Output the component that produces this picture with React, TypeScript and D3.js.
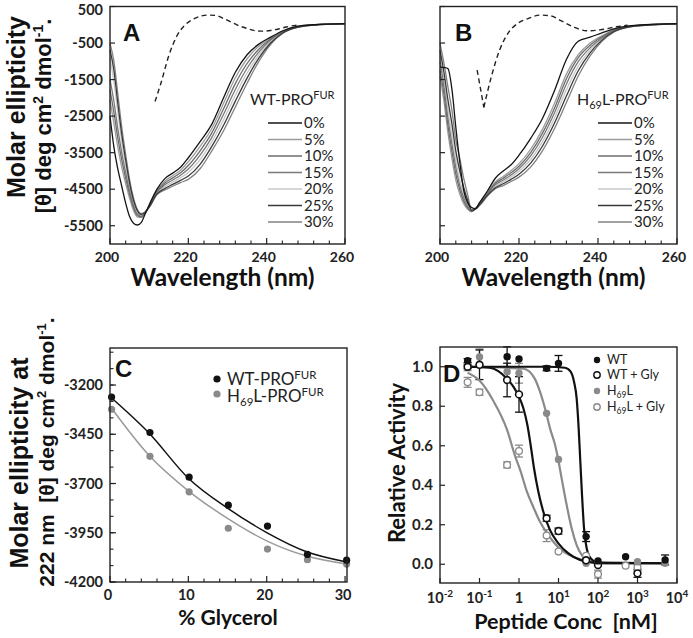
import * as d3 from "d3";

// ---------- panels A / B : CD spectra ----------
const wavelengthNm = [200, 201, 202, 203, 204, 205, 206, 207, 208, 209, 210, 212, 214, 216, 218, 220, 223, 226, 229, 232, 235, 238, 241, 244, 248, 252, 260];
const glycerolLabels = ["0%", "5%", "10%", "15%", "20%", "25%", "30%"];

const wt0 = [-2500, -3350, -3950, -4420, -4880, -5250, -5430, -5480, -5410, -5170, -4930, -4500, -4210, -4060, -3900, -3640, -3200, -2720, -2000, -1300, -820, -530, -340, -170, -40, 0, 30];
const wt5 = [-2060, -2700, -3350, -3900, -4350, -4750, -5080, -5260, -5280, -5150, -4950, -4530, -4280, -4130, -3980, -3750, -3330, -2840, -2150, -1450, -930, -590, -360, -180, -45, -2, 32];
const wt10 = [-1780, -2400, -3100, -3700, -4200, -4640, -5010, -5220, -5260, -5145, -4960, -4560, -4330, -4190, -4050, -3850, -3450, -2960, -2300, -1610, -1060, -670, -390, -190, -50, -4, 30];
const wt15 = [-1510, -2100, -2850, -3500, -4050, -4550, -4950, -5180, -5240, -5140, -4970, -4580, -4380, -4250, -4120, -3950, -3570, -3080, -2450, -1770, -1190, -750, -420, -200, -55, -5, 28];
const wt20 = [-920, -1550, -2400, -3200, -3850, -4430, -4870, -5130, -5210, -5135, -4980, -4610, -4430, -4310, -4190, -4040, -3690, -3200, -2600, -1930, -1320, -830, -460, -215, -60, -6, 30];
const wt25 = [-690, -1250, -2150, -3000, -3700, -4330, -4800, -5090, -5190, -5128, -4990, -4630, -4480, -4370, -4260, -4140, -3820, -3330, -2750, -2090, -1460, -910, -500, -230, -65, -8, 26];
const wt30 = [-510, -1000, -1900, -2800, -3550, -4240, -4740, -5060, -5170, -5120, -5000, -4650, -4520, -4420, -4320, -4230, -3940, -3450, -2900, -2250, -1600, -1000, -540, -240, -70, -10, 30];
const wtSpectra = [wt0, wt5, wt10, wt15, wt20, wt25, wt30];

const h0 = [-1150, -1170, -1200, -1750, -2800, -3750, -4530, -4870, -5000, -5030, -4870, -4550, -4200, -4000, -3830, -3570, -3100, -2550, -1800, -950, -450, -340, -220, -110, -30, 0, 30];
const h5 = [-1400, -2100, -2950, -3650, -4250, -4630, -4900, -5050, -5110, -5030, -4890, -4590, -4300, -4150, -3990, -3800, -3400, -2850, -2150, -1350, -820, -500, -300, -140, -35, -3, 30];
const h10 = [-1250, -1900, -2750, -3450, -4080, -4520, -4820, -5010, -5110, -5030, -4900, -4610, -4340, -4200, -4050, -3870, -3490, -2960, -2280, -1480, -900, -560, -330, -150, -40, -5, 28];
const h15 = [-1000, -1700, -2550, -3250, -3900, -4400, -4730, -4960, -5100, -5030, -4910, -4630, -4380, -4250, -4110, -3940, -3580, -3070, -2410, -1620, -1010, -630, -360, -160, -45, -7, 32];
const h20 = [-850, -1500, -2300, -3000, -3700, -4250, -4620, -4900, -5100, -5040, -4920, -4650, -4420, -4300, -4170, -4010, -3680, -3190, -2550, -1780, -1130, -700, -390, -170, -50, -9, 30];
const h25 = [-700, -1300, -2050, -2700, -3450, -4000, -4450, -4800, -5080, -5040, -4930, -4670, -4460, -4350, -4230, -4090, -3780, -3310, -2690, -1950, -1260, -770, -420, -185, -55, -12, 27];
const h30 = [-510, -1050, -1700, -2330, -3150, -3650, -4200, -4650, -5060, -5040, -4950, -4690, -4490, -4400, -4290, -4170, -3890, -3440, -2840, -2130, -1400, -850, -450, -200, -60, -15, 30];
const h69lSpectra = [h0, h5, h10, h15, h20, h25, h30];

// dashed reference spectra
const wtDashNm = [211.5, 213, 215, 217, 219, 221, 223, 225, 227, 229, 231, 233, 235, 237, 239, 241, 243, 245, 248];
const wtDashTheta = [-2100, -1600, -850, -320, -20, 140, 230, 265, 255, 170, 70, -30, -100, -160, -175, -155, -115, -60, -5];
const hDashNm = [209.4, 211.1, 213, 215.1, 217.2, 219.7, 222.3, 225.2, 228.2, 230.3, 233.7, 237.1, 240.5, 244.7, 247.5];
const hDashTheta = [-1240, -2260, -1420, -690, -235, 40, 170, 265, 240, 130, -55, -165, -140, -55, -10];

const cdYTicks = [500, -500, -1500, -2500, -3500, -4500, -5500];
const cdXTicks = [200, 220, 240, 260];
const cdXMinor = [204, 208, 212, 216, 224, 228, 232, 236, 244, 248, 252, 256];

// ---------- panel C ----------
const glycerolPct = [0.2, 5.1, 10.1, 15.1, 20.1, 25.2, 30.2];
const wtTheta222 = [-3261, -3441, -3668, -3810, -3916, -4060, -4089];
const h69lTheta222 = [-3323, -3562, -3742, -3927, -4033, -4087, -4109];
const fitPct = [0.2, 5, 10, 15, 20, 25, 30.2];
const wtFit222 = [-3266, -3445, -3673, -3825, -3949, -4045, -4098];
const h69lFit222 = [-3318, -3558, -3737, -3877, -3991, -4067, -4109];
const cYTicks = [-3200, -3450, -3700, -3950, -4200];
const cXTicks = [0, 10, 20, 30];
const cXMinor = [2, 4, 6, 8, 12, 14, 16, 18, 22, 24, 26, 28];

// ---------- panel D ----------
const wtConc = [0.05, 0.5, 1, 5, 10, 50, 100, 500, 5000];
const wtAct = [1.031, 1.051, 1.039, 0.992, 1.017, 0.14, 0.017, 0.038, 0.022];
const wtErr = [0.01, 0.05, 0, 0.012, 0.04, 0.025, 0, 0, 0.025];
const wtGlyConc = [0.05, 0.1, 0.5, 1, 5, 10, 50, 100, 1000];
const wtGlyAct = [1.0, 1.01, 0.933, 0.86, 0.233, 0.168, 0.02, -0.004, -0.046];
const wtGlyErr = [0.01, 0.075, 0.085, 0.09, 0.015, 0.015, 0.01, 0, 0.02];
const h69lConc = [0.05, 0.1, 0.5, 1, 5, 10, 50, 100, 1000, 5000];
const h69lAct = [1.0, 1.05, 0.975, 0.967, 0.764, 0.531, 0.005, 0.005, 0.013, 0.005];
const h69lErr = [0.02, 0.04, 0, 0.05, 0, 0, 0, 0, 0, 0];
const h69lGlyConc = [0.05, 0.1, 0.5, 1, 5, 10, 50, 100, 500, 1000];
const h69lGlyAct = [0.921, 0.871, 0.503, 0.573, 0.145, 0.064, 0.043, -0.05, -0.007, -0.017];
const h69lGlyErr = [0.025, 0.015, 0.015, 0.03, 0.03, 0, 0, 0.02, 0, 0.015];

const wtFitConc = [0.05, 5, 14.6, 20.3, 24.7, 28.8, 32.4, 35.7, 39.4, 44.3, 51.7, 65.2, 100, 5000];
const wtFitAct = [1.0, 1.0, 0.995, 0.975, 0.924, 0.84, 0.688, 0.519, 0.35, 0.182, 0.081, 0.03, 0.008, 0.005];
const wtGlyFitConc = [0.05, 0.18, 0.3, 0.49, 0.72, 1, 1.29, 1.63, 1.97, 2.4, 3.09, 4.13, 6.1, 9.9, 17.8, 35, 100, 5000];
const wtGlyFitAct = [1.0, 0.995, 0.978, 0.94, 0.899, 0.848, 0.79, 0.705, 0.604, 0.486, 0.367, 0.266, 0.173, 0.106, 0.055, 0.022, 0.006, 0.005];
const h69lFitConc = [0.05, 1.3, 2.5, 3.4, 4.8, 6.1, 8.2, 9.9, 12, 16.1, 21.5, 28.8, 38.6, 57, 100, 5000];
const h69lFitAct = [1.0, 0.99, 0.94, 0.874, 0.772, 0.688, 0.604, 0.528, 0.435, 0.3, 0.182, 0.097, 0.047, 0.013, 0.006, 0.005];
const h69lGlyFitConc = [0.05, 0.1, 0.22, 0.5, 0.79, 1.1, 1.57, 2.3, 3.4, 5, 7.4, 10.6, 19.5, 50, 166, 5000];
const h69lGlyFitAct = [0.97, 0.93, 0.83, 0.68, 0.55, 0.47, 0.37, 0.29, 0.215, 0.16, 0.114, 0.08, 0.045, 0.018, 0.006, 0.005];

const dXExponents = [-2, -1, 0, 1, 2, 3, 4];
const dYTicks = [0, 0.2, 0.4, 0.6, 0.8, 1.0];

// ---------- styling ----------
const FONT = "Lato, 'Open Sans', sans-serif";
const ARIAL = "'Liberation Sans', Arial, sans-serif";
const NB = "\u00A0";
const curveColors = ["#141414", "#9c9c9c", "#6c6c6c", "#7a7a7a", "#c8c8c8", "#3a3a3a", "#828282"];
const drawOrder = [4, 1, 6, 3, 2, 5, 0];
const GRAY = "#8a8a8a";

function CdPanel({ x0, x1, spectra, dashNm, dashTheta, sharpFirst, letter, letterX, yLabels, legendX, lineX, title }: any) {
  const xs = d3.scaleLinear().domain([200, 260]).range([x0, x1]);
  const ys = d3.scaleLinear().domain([-6000, 500]).range([244, 6.5]);
  const top = 6.5, bottom = 244;
  const line = d3
    .line<number>()
    .x((_, i) => xs(wavelengthNm[i]))
    .y((d) => ys(d))
    .curve(d3.curveMonotoneX);
  const dash = d3
    .line<number>()
    .x((i) => xs(dashNm[i]))
    .y((i) => ys(dashTheta[i]));
  const idx = dashNm.map((_: number, i: number) => i);
  const dashParts = sharpFirst ? [idx.slice(0, 2), idx.slice(1)] : [idx];
  const legendRows = [123, 139.5, 156, 172.5, 189, 205.5, 222];
  return (
    <g>
      {dashParts.map((p: number[], k: number) => (
        <path key={k} d={(sharpFirst && k === 0 ? dash.curve(d3.curveLinear) : dash.curve(d3.curveMonotoneX))(p) || ""}
          fill="none" stroke="#222" strokeWidth={1.4} strokeDasharray="5,3.5" />
      ))}
      {drawOrder.map((k) => (
        <path key={k} d={line(spectra[k]) || ""} fill="none" stroke={curveColors[k]} strokeWidth={1.3} />
      ))}
      <rect x={x0} y={top} width={x1 - x0} height={bottom - top} fill="none" stroke="#222" strokeWidth={1.4} />
      {cdYTicks.map((t) => (
        <line key={t} x1={x0} x2={x0 + 5} y1={ys(t)} y2={ys(t)} stroke="#222" strokeWidth={1.2} />
      ))}
      {cdXTicks.map((t) => (
        <line key={t} x1={xs(t)} x2={xs(t)} y1={bottom} y2={bottom - 6} stroke="#222" strokeWidth={1.2} />
      ))}
      {cdXMinor.map((t) => (
        <line key={t} x1={xs(t)} x2={xs(t)} y1={bottom} y2={bottom - 3.5} stroke="#222" strokeWidth={1.1} />
      ))}
      {yLabels &&
        cdYTicks.map((t) => (
          <text key={t} x={103} y={Math.max(ys(t) + 5, 15)} textAnchor="end" fontSize={14.5} fontWeight={700} fill="#222">
            {t}
          </text>
        ))}
      {cdXTicks.map((t) => (
        <text key={t} x={xs(t) - 3} y={261.5} textAnchor="middle" fontSize={14} fontWeight={700} fill="#222">
          {t}
        </text>
      ))}
      <text x={(x0 + x1) / 2 - 5} y={286} textAnchor="middle" fontSize={24.5} fontWeight={700} fill="#111">
        Wavelength (nm)
      </text>
      <text x={letterX} y={41} fontFamily={ARIAL} fontSize={24} fontWeight={700} fill="#111">
        {letter}
      </text>
      <text x={legendX} y={105} fontSize={16} fill="#222">
        {title}
      </text>
      {glycerolLabels.map((g, k) => (
        <g key={g}>
          <line x1={lineX} x2={lineX + 34} y1={legendRows[k]} y2={legendRows[k]} stroke={curveColors[k]} strokeWidth={1.5} />
          <text x={lineX + 36} y={legendRows[k] + 5} fontSize={15} fill="#222">
            {g}
          </text>
        </g>
      ))}
    </g>
  );
}

function PanelC() {
  const xs = d3.scaleLinear().domain([0, 30.25]).range([110, 347]);
  const ys = d3.scaleLinear().domain([-4200, -3012]).range([582, 348]);
  const minor = d3.range(-4200, -3010, 250 / 3);
  const fit = (vals: number[]) =>
    d3
      .line<number>()
      .x((_, i) => xs(fitPct[i]))
      .y((d) => ys(d))
      .curve(d3.curveMonotoneX)(vals) || "";
  return (
    <g>
      <path d={fit(h69lFit222)} fill="none" stroke="#9a9a9a" strokeWidth={1.5} />
      <path d={fit(wtFit222)} fill="none" stroke="#111" strokeWidth={1.5} />
      {h69lTheta222.map((v, i) => (
        <circle key={"g" + i} cx={xs(glycerolPct[i])} cy={ys(v)} r={3.6} fill={GRAY} />
      ))}
      {wtTheta222.map((v, i) => (
        <circle key={"b" + i} cx={xs(glycerolPct[i])} cy={ys(v)} r={3.6} fill="#111" />
      ))}
      <rect x={110} y={348} width={237} height={234} fill="none" stroke="#222" strokeWidth={1.4} />
      {minor.map((t) => (
        <line key={t} x1={110} x2={113.5} y1={ys(t)} y2={ys(t)} stroke="#222" strokeWidth={1.1} />
      ))}
      {cYTicks.map((t) => (
        <line key={t} x1={110} x2={116} y1={ys(t)} y2={ys(t)} stroke="#222" strokeWidth={1.2} />
      ))}
      {cXMinor.map((t) => (
        <line key={t} x1={xs(t)} x2={xs(t)} y1={582} y2={578.5} stroke="#222" strokeWidth={1.1} />
      ))}
      {cXTicks.map((t) => (
        <line key={t} x1={xs(t)} x2={xs(t)} y1={582} y2={576} stroke="#222" strokeWidth={1.2} />
      ))}
      {cYTicks.map((t) => (
        <text key={t} x={103} y={ys(t) + 5} textAnchor="end" fontSize={14.5} fontWeight={700} fill="#222">
          {t}
        </text>
      ))}
      {cXTicks.map((t) => (
        <text key={t} x={xs(t) - 2} y={600} textAnchor="middle" fontSize={14.5} fontWeight={700} fill="#222">
          {t}
        </text>
      ))}
      <text x={228} y={625} textAnchor="middle" fontSize={21} fontWeight={700} fill="#111">
        % Glycerol
      </text>
      <text x={115} y={377} fontFamily={ARIAL} fontSize={24} fontWeight={700} fill="#111">
        C
      </text>
      <circle cx={217} cy={379} r={3.6} fill="#111" />
      <text x={227} y={385} fontSize={17} fill="#222">
        WT-PRO<tspan dy={-6} fontSize={11.5}>FUR</tspan>
      </text>
      <circle cx={217} cy={394} r={3.6} fill={GRAY} />
      <text x={227} y={402} fontSize={17} fill="#222">
        H<tspan dy={4} fontSize={11.5}>69</tspan>
        <tspan dy={-4}>L-PRO</tspan>
        <tspan dy={-6} fontSize={11.5}>FUR</tspan>
      </text>
    </g>
  );
}

function PanelD() {
  const xs = d3.scaleLog().domain([0.01, 10000]).range([440, 677]);
  const ys = d3.scaleLinear().domain([-0.1, 1.1]).range([584, 347]);
  const fitLine = (cs: number[], vals: number[]) =>
    d3
      .line<number>()
      .x((_, i) => xs(cs[i]))
      .y((d) => ys(d))
      .curve(d3.curveMonotoneX)(vals) || "";
  const bars = (cs: number[], vals: number[], errs: number[], color: string) =>
    vals.map((v, i) =>
      errs[i] > 0 ? (
        <g key={"e" + color + i} stroke={color} strokeWidth={1.3}>
          <line x1={xs(cs[i])} x2={xs(cs[i])} y1={ys(v - errs[i])} y2={ys(v + errs[i])} />
          <line x1={xs(cs[i]) - 4} x2={xs(cs[i]) + 4} y1={ys(v - errs[i])} y2={ys(v - errs[i])} />
          <line x1={xs(cs[i]) - 4} x2={xs(cs[i]) + 4} y1={ys(v + errs[i])} y2={ys(v + errs[i])} />
        </g>
      ) : null
    );
  const legend = [
    { y: 360, fill: "#111", stroke: "none", label: <>WT</> },
    { y: 375, fill: "#fff", stroke: "#111", label: <>WT + Gly</> },
    { y: 391, fill: GRAY, stroke: "none", label: <>H<tspan dy={3} fontSize={8.5}>69</tspan><tspan dy={-3}>L</tspan></> },
    { y: 407, fill: "#fff", stroke: GRAY, label: <>H<tspan dy={3} fontSize={8.5}>69</tspan><tspan dy={-3}>L + Gly</tspan></> },
  ];
  return (
    <g>
      {bars(h69lGlyConc, h69lGlyAct, h69lGlyErr, GRAY)}
      {bars(h69lConc, h69lAct, h69lErr, GRAY)}
      {bars(wtGlyConc, wtGlyAct, wtGlyErr, "#111")}
      {bars(wtConc, wtAct, wtErr, "#111")}
      <path d={fitLine(h69lGlyFitConc, h69lGlyFitAct)} fill="none" stroke={GRAY} strokeWidth={2.2} />
      <path d={fitLine(h69lFitConc, h69lFitAct)} fill="none" stroke={GRAY} strokeWidth={2.2} />
      <path d={fitLine(wtGlyFitConc, wtGlyFitAct)} fill="none" stroke="#111" strokeWidth={2.2} />
      <path d={fitLine(wtFitConc, wtFitAct)} fill="none" stroke="#111" strokeWidth={2.2} />
      {h69lGlyAct.map((v, i) => (
        <circle key={"hg" + i} cx={xs(h69lGlyConc[i])} cy={ys(v)} r={3.4} fill="#fff" stroke={GRAY} strokeWidth={1.3} />
      ))}
      {h69lAct.map((v, i) => (
        <circle key={"h" + i} cx={xs(h69lConc[i])} cy={ys(v)} r={3.7} fill={GRAY} />
      ))}
      {wtGlyAct.map((v, i) => (
        <circle key={"wg" + i} cx={xs(wtGlyConc[i])} cy={ys(v)} r={3.4} fill="#fff" stroke="#111" strokeWidth={1.6} />
      ))}
      {wtAct.map((v, i) => (
        <circle key={"w" + i} cx={xs(wtConc[i])} cy={ys(v)} r={3.7} fill="#111" />
      ))}
      <rect x={440} y={347} width={237} height={236} fill="none" stroke="#222" strokeWidth={1.4} />
      {dYTicks.map((t) => (
        <line key={t} x1={440} x2={445} y1={ys(t)} y2={ys(t)} stroke="#222" strokeWidth={1.2} />
      ))}
      {dXExponents.map((e) => (
        <line key={e} x1={xs(10 ** e)} x2={xs(10 ** e)} y1={583} y2={578} stroke="#222" strokeWidth={1.2} />
      ))}
      {dYTicks.map((t) => (
        <text key={t} x={433} y={ys(t) + 5} textAnchor="end" fontSize={15} fontWeight={700} fill="#222">
          {t.toFixed(1)}
        </text>
      ))}
      {dXExponents.map((e) => (
        <text key={e} x={xs(10 ** e)} y={603} textAnchor="middle" fontSize={14.5} fontWeight={700} fill="#222">
          {e === 0 ? "1" : (
            <>
              10<tspan dy={-6} fontSize={10}>{String(e)}</tspan>
            </>
          )}
        </text>
      ))}
      <text x={566} y={629} textAnchor="middle" fontSize={21.5} fontWeight={700} fill="#111">
        {`Peptide Conc${NB} [nM]`}
      </text>
      <text transform="translate(405,463) rotate(-90)" textAnchor="middle" fontSize={22} fontWeight={700} fill="#111">
        Relative Activity
      </text>
      <text x={443} y={382} fontFamily={ARIAL} fontSize={24} fontWeight={700} fill="#111">
        D
      </text>
      {legend.map((l, i) => (
        <g key={i}>
          <circle cx={597} cy={l.y} r={3.2} fill={l.fill} stroke={l.stroke} strokeWidth={1.4} />
          <text x={607} y={l.y + 4} fontSize={12.5} fill="#222">
            {l.label}
          </text>
        </g>
      ))}
    </g>
  );
}

export default function App() {
  return (
    <svg width={693} height={638} style={{ position: "absolute", left: 0, top: 0, background: "#fff" }} fontFamily={FONT}>
      <rect width={693} height={638} fill="#fff" />
      {/* A */}
      <CdPanel
        x0={110} x1={345} spectra={wtSpectra} dashNm={wtDashNm} dashTheta={wtDashTheta} sharpFirst={false}
        letter="A" letterX={123} yLabels={true} legendX={250} lineX={268}
        title={<>WT-PRO<tspan dy={-6} fontSize={11}>FUR</tspan></>}
      />
      <text transform="translate(25,107) rotate(-90)" textAnchor="middle" fontFamily={ARIAL} fontSize={25} fontWeight={700} fill="#111">
        Molar ellipticity
      </text>
      <text transform="translate(51,116) rotate(-90)" textAnchor="middle" fontFamily={ARIAL} fontSize={22} fontWeight={700} fill="#111">
        [θ] deg cm<tspan dy={-8} fontSize={14}>2</tspan>
        <tspan dy={8}> dmol</tspan>
        <tspan dy={-8} fontSize={14}>-1</tspan>
        <tspan dy={8}>.</tspan>
      </text>
      {/* B */}
      <CdPanel
        x0={440} x1={677} spectra={h69lSpectra} dashNm={hDashNm} dashTheta={hDashTheta} sharpFirst={true}
        letter="B" letterX={455} yLabels={false} legendX={577} lineX={598}
        title={<>H<tspan dy={4} fontSize={11}>69</tspan><tspan dy={-4}>L-PRO</tspan><tspan dy={-6} fontSize={11}>FUR</tspan></>}
      />
      {/* C */}
      <PanelC />
      <text transform="translate(28,463) rotate(-90)" textAnchor="middle" fontFamily={ARIAL} fontSize={25} fontWeight={700} fill="#111">
        Molar ellipticity at
      </text>
      <text transform="translate(54,452) rotate(-90)" textAnchor="middle" fontFamily={ARIAL} fontSize={21} fontWeight={700} fill="#111">
        {`222 nm${NB} [θ] deg cm`}<tspan dy={-8} fontSize={13}>2</tspan>
        <tspan dy={8}> dmol</tspan>
        <tspan dy={-8} fontSize={13}>-1</tspan>
        <tspan dy={8}>.</tspan>
      </text>
      {/* D */}
      <PanelD />
    </svg>
  );
}
